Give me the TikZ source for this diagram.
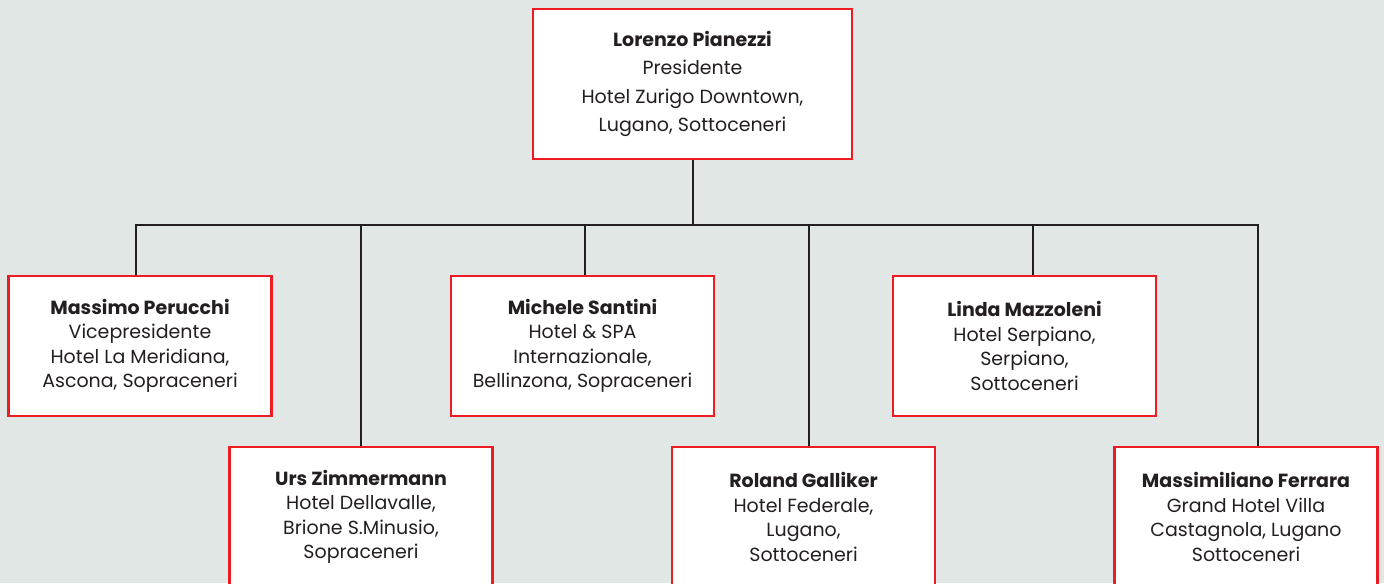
\documentclass[tikz,border=0pt]{standalone}
\usepackage{fontspec}
\setmainfont{Poppins}
\usetikzlibrary{calc}
\definecolor{sfondo}{HTML}{E1E7E5}
\definecolor{rosso}{HTML}{ED1C24}
\definecolor{testo}{HTML}{231F20}
\tikzset{
persona/.style={rectangle,draw=rosso,line width=1.2pt,fill=white,inner sep=0pt,
  minimum width=131.5pt,minimum height=70pt,align=center,text=testo,
  font=\fontsize{9.5}{12.2}\selectfont},
linea/.style={draw=testo,line width=1pt}}

\begin{document}
\begin{tikzpicture}[x=0.5pt,y=-0.5pt]

\clip (0,0) rectangle (1384,583);
\fill[sfondo] (0,0) rectangle (1384,583);

\node[persona,minimum width=159.5pt,minimum height=75pt,font=\fontsize{9.5}{14.25}\selectfont] (0) at (692.5,84)
  {\textbf{Lorenzo Pianezzi}\\Presidente\\Hotel Zurigo Downtown,\\Lugano, Sottoceneri};

\node[persona] (1) at (140,346)    {\textbf{Massimo Perucchi}\\Vicepresidente\\Hotel La Meridiana,\\Ascona, Sopraceneri};
\node[persona] (2) at (361,517)    {\textbf{Urs Zimmermann}\\Hotel Dellavalle,\\Brione S.Minusio,\\Sopraceneri};
\node[persona] (3) at (582.5,346)  {\textbf{Michele Santini}\\Hotel \& SPA\\Internazionale,\\Bellinzona, Sopraceneri};
\node[persona] (4) at (803.5,517)  {\textbf{Roland Galliker}\\Hotel Federale,\\Lugano,\\Sottoceneri};
\node[persona] (5) at (1024.5,346) {\textbf{Linda Mazzoleni}\\Hotel Serpiano,\\Serpiano,\\Sottoceneri};
\node[persona] (6) at (1246,517)   {\textbf{Massimiliano Ferrara}\\Grand Hotel Villa\\Castagnola, Lugano\\Sottoceneri};

\coordinate (bus) at (692.5,225);

\draw[linea] (0.south) -- (0.south |- bus);
\draw[linea] ([xshift=-2pt]1.north) -- ([xshift=-2pt]1.north |- bus) -- ([xshift=6pt]6.north |- bus) -- ([xshift=6pt]6.north);
\draw[linea] (2.north) -- (2.north |- bus);
\draw[linea] ([xshift=1.25pt]3.north) -- ([xshift=1.25pt]3.north |- bus);
\draw[linea] ([xshift=2.75pt]4.north) -- ([xshift=2.75pt]4.north |- bus);
\draw[linea] ([xshift=4.25pt]5.north) -- ([xshift=4.25pt]5.north |- bus);

\end{tikzpicture}
\end{document}
